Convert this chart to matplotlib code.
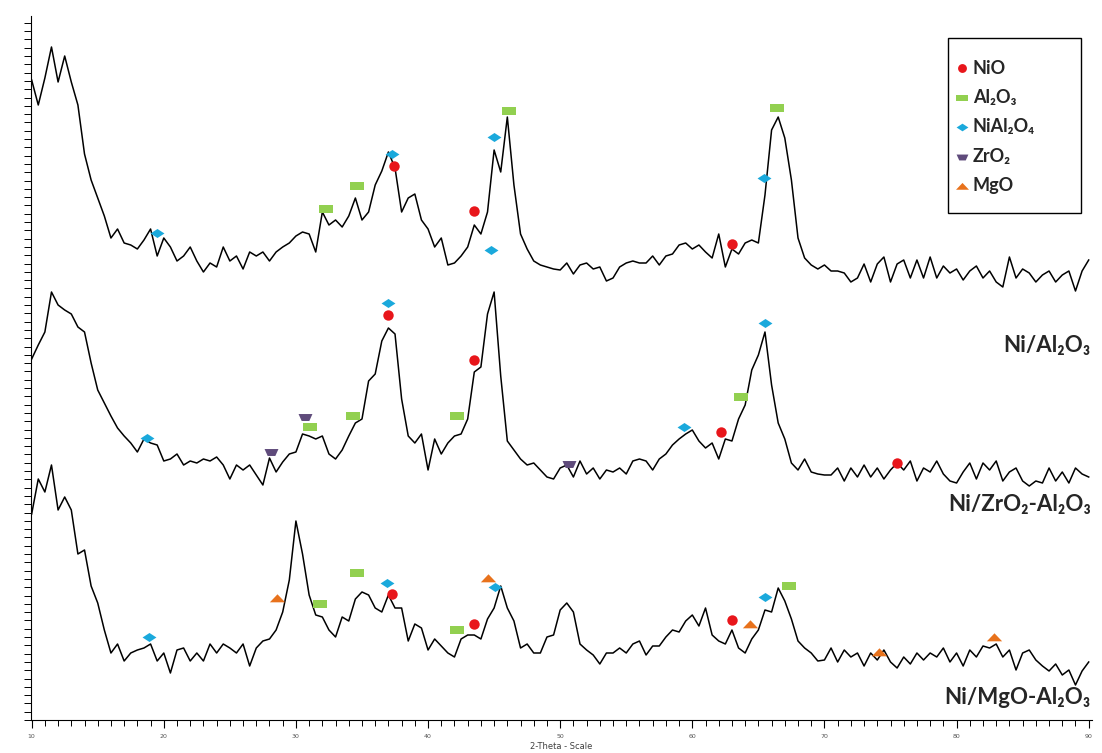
import numpy as np
import matplotlib
matplotlib.use("Agg")
import matplotlib.pyplot as plt
from matplotlib.lines import Line2D
from matplotlib.patches import Rectangle
from matplotlib.ticker import MultipleLocator

# -----------------------------
# Data (stacked intensity, a.u.)
# -----------------------------
two_theta = np.arange(10.0, 90.01, 0.5)

ni_al2o3 = [
    640, 615, 642, 673, 638, 664, 638, 615, 566, 540,
    522, 504, 482, 491, 477, 475, 471, 480, 491, 464,
    482, 473, 459, 464, 473, 459, 448, 457, 453, 473,
    459, 464, 451, 468, 464, 468, 459, 468, 473, 477,
    484, 488, 486, 468, 508, 495, 500, 493, 504, 522,
    500, 508, 535, 549, 568, 552, 508, 522, 526, 500,
    491, 473, 482, 455, 457, 464, 473, 495, 486, 508,
    570, 548, 603, 535, 486, 471, 459, 455, 453, 451,
    450, 457, 446, 455, 457, 451, 453, 439, 442, 453,
    457, 459, 457, 457, 464, 455, 464, 466, 475, 477,
    471, 475, 468, 462, 486, 453, 471, 466, 477, 480,
    477, 525, 590, 603, 582, 540, 482, 462, 455, 451,
    455, 449, 449, 447, 438, 442, 456, 438, 456, 463,
    438, 456, 460, 442, 460, 442, 463, 442, 454, 447,
    451, 440, 449, 454, 442, 449, 438, 433, 463, 442,
    451, 447, 438, 445, 449, 438, 445, 449, 429, 449,
    460,
]

ni_zro2_al2o3 = [
    361, 375, 388, 428, 415, 410, 406, 393, 388, 357,
    330, 317, 304, 292, 284, 277, 268, 281, 277, 275,
    259, 261, 266, 255, 259, 257, 261, 259, 263, 255,
    241, 255, 250, 255, 245, 235, 262, 248, 258, 266,
    268, 286, 284, 281, 284, 266, 261, 270, 284, 297,
    301, 339, 346, 379, 392, 386, 321, 284, 277, 286,
    250, 281, 266, 277, 284, 286, 301, 348, 353, 406,
    428, 344, 279, 270, 261, 255, 257, 250, 243, 241,
    252, 255, 243, 259, 246, 252, 241, 250, 248, 252,
    246, 259, 261, 259, 250, 261, 266, 275, 281, 286,
    290, 279, 272, 277, 261, 281, 279, 301, 315, 350,
    365, 388, 335, 297, 281, 257, 250, 261, 248, 246,
    245, 245, 252, 239, 252, 243, 255, 243, 252, 241,
    250, 257, 250, 259, 239, 252, 248, 259, 246, 239,
    237, 248, 257, 241, 257, 250, 259, 239, 248, 252,
    239, 234, 239, 237, 252, 239, 248, 237, 252, 246,
    243,
]

ni_mgo_al2o3 = [
    206, 241, 228, 255, 210, 223, 210, 166, 170, 134,
    117, 90, 67, 76, 59, 67, 70, 72, 76, 59,
    67, 47, 70, 72, 59, 67, 59, 76, 67, 76,
    72, 67, 76, 54, 72, 79, 81, 90, 108, 140,
    199, 166, 125, 105, 103, 90, 83, 103, 99, 121,
    128, 125, 112, 108, 125, 112, 112, 79, 96, 92,
    70, 81, 74, 67, 63, 81, 85, 85, 81, 101,
    112, 134, 112, 99, 72, 76, 67, 67, 83, 85,
    110, 117, 108, 76, 70, 65, 56, 67, 67, 72,
    67, 76, 79, 65, 74, 74, 83, 90, 88, 99,
    105, 94, 112, 85, 79, 76, 90, 72, 67, 81,
    90, 110, 108, 132, 119, 101, 79, 72, 67, 59,
    60, 72, 58, 70, 63, 67, 54, 67, 60, 70,
    58, 52, 63, 56, 67, 60, 67, 63, 72, 58,
    67, 54, 70, 63, 74, 72, 76, 63, 70, 50,
    67, 70, 60, 54, 49, 56, 45, 50, 35, 49,
    58,
]

sample_names = ["Ni/Al₂O₃", "Ni/ZrO₂-Al₂O₃", "Ni/MgO-Al₂O₃"]
sample_label_height = [375, 215, 23]

# phase markers (2-theta, stacked height)
nio_theta = [37.4, 43.5, 63.0, 37.0, 43.5, 62.2, 75.5, 37.3, 43.5, 63.0]
nio_height = [554, 509, 476, 405, 360, 288, 257, 126, 96, 100]

al2o3_theta = [32.3, 34.6, 46.1, 66.4, 31.1, 34.3, 42.2, 63.7, 31.8, 34.6, 42.2, 67.3]
al2o3_height = [511, 534, 609, 612, 293, 304, 304, 323, 116, 147, 90, 134]

nial2o4_theta = [19.5, 37.3, 45.0, 44.8, 65.4, 18.7, 37.0, 59.4, 65.5, 18.9, 36.9, 45.1, 65.5]
nial2o4_height = [487, 566, 583, 470, 542, 282, 417, 293, 397, 83, 137, 133, 123]

zro2_theta = [28.1, 30.7, 50.7]
zro2_height = [268, 303, 256]

mgo_theta = [28.6, 44.5, 64.4, 74.1, 82.8]
mgo_height = [122, 142, 96, 68, 83]

# -----------------------------
# Marker shapes / colours
# -----------------------------
RECT = [(-1, -0.55), (1, -0.55), (1, 0.55), (-1, 0.55), (-1, -0.55)]
DIAMOND = [(-1, 0), (0, 0.65), (1, 0), (0, -0.65), (-1, 0)]
TRAPEZ = [(-1, 0.5), (1, 0.5), (0.55, -0.5), (-0.55, -0.5), (-1, 0.5)]
TRIANGLE = [(-1, -0.5), (1, -0.5), (0, 0.55), (-1, -0.5)]

phases = [
    ("NiO", nio_theta, nio_height, "o", 7.5, "#e8161b"),
    ("Al₂O₃", al2o3_theta, al2o3_height, RECT, 10, "#92d050"),
    ("NiAl₂O₄", nial2o4_theta, nial2o4_height, DIAMOND, 10, "#1aa9dc"),
    ("ZrO₂", zro2_theta, zro2_height, TRAPEZ, 10, "#5f4b7b"),
    ("MgO", mgo_theta, mgo_height, TRIANGLE, 11, "#e8721c"),
]

FONT = ["Lato", "DejaVu Sans"]
W, H = 1102, 753


def fx(px):
    return px / W


def fy(py):
    return 1 - py / H


# -----------------------------
# Plot
# -----------------------------
fig = plt.figure(figsize=(W / 100, H / 100), dpi=100)
ax = fig.add_axes([fx(31), 33 / H, 1061 / W, 704 / H])

for trace in (ni_al2o3, ni_zro2_al2o3, ni_mgo_al2o3):
    ax.plot(two_theta, trace, color="black", lw=1.1)

for name, xs, ys, marker, ms, color in phases:
    ax.plot(xs, ys, ls="", marker=marker, ms=ms, color=color,
            markeredgewidth=0, zorder=5)

for name, h in zip(sample_names, sample_label_height):
    ax.text(90.15, h, name, ha="right", va="center", fontsize=16,
            fontweight="bold", color="#262626", family=FONT)

# legend box drawn by hand (asymmetric padding like the original)
fig.add_artist(Rectangle((fx(948), fy(213)), fx(1081) - fx(948),
                         fy(38) - fy(213), transform=fig.transFigure,
                         fill=False, edgecolor="black", lw=1.0))
for i, (name, xs, ys, marker, ms, color) in enumerate(phases):
    y = fy(68 + i * 29.5)
    fig.add_artist(Line2D([fx(962)], [y], ls="", marker=marker,
                          ms=ms * 0.85, color=color, markeredgewidth=0,
                          transform=fig.transFigure))
    fig.text(fx(973), y, name, ha="left", va="center", fontsize=13,
             fontweight="bold", color="#262626", family=FONT)

ax.set_xlim(9.95, 90.25)
ax.set_ylim(0, 704)

ax.spines["top"].set_visible(False)
ax.spines["right"].set_visible(False)
ax.xaxis.set_major_locator(MultipleLocator(10))
ax.xaxis.set_minor_locator(MultipleLocator(1))
ax.yaxis.set_major_locator(MultipleLocator(8.3))
ax.tick_params(axis="x", which="major", length=6, width=0.8,
               labelsize=4.5, labelcolor="#555555", pad=4)
ax.tick_params(axis="x", which="minor", length=4, width=0.7)
ax.tick_params(axis="y", which="major", length=5, width=0.7, labelleft=False)
ax.set_xlabel("2-Theta - Scale", fontsize=6, color="#404040", labelpad=2)

plt.savefig("out.png", dpi=100)
plt.close()
